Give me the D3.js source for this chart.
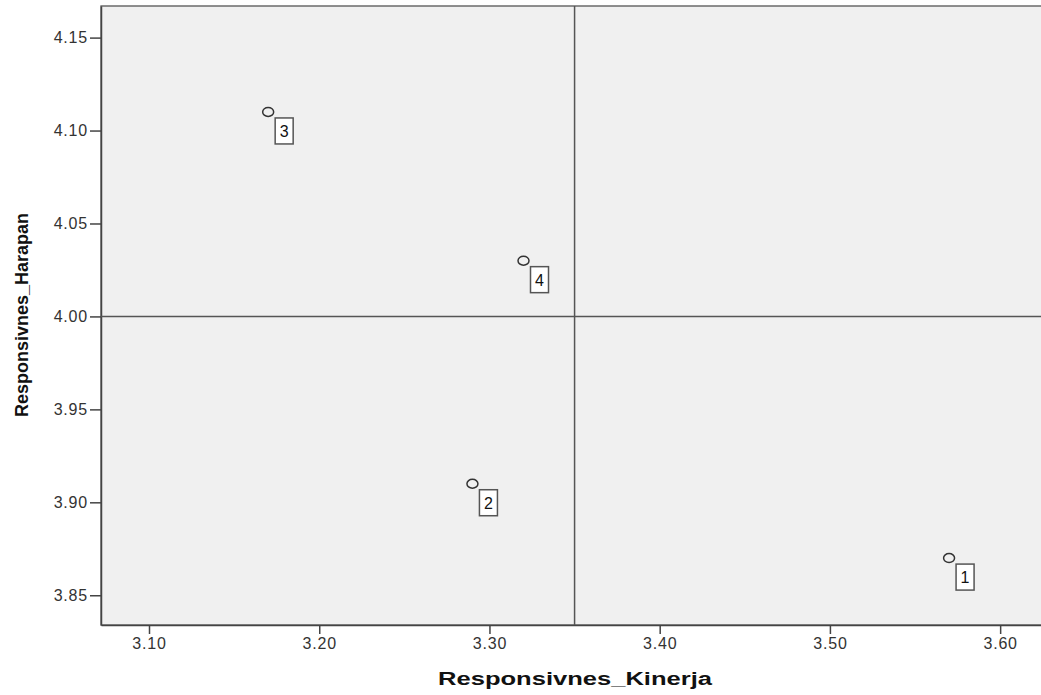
<!DOCTYPE html>
<html><head><meta charset="utf-8">
<script src="https://cdnjs.cloudflare.com/ajax/libs/d3/7.8.5/d3.min.js"></script>
<style>body{margin:0;background:#fff;} text{font-family:"Liberation Sans",Arial,sans-serif;}</style>
</head><body>
<svg id="c" width="1041" height="695"></svg>
<script>
const labels = ["1","2","3","4"];
const kinerja = [3.57, 3.29, 3.17, 3.32];
const harapan = [3.87, 3.91, 4.11, 4.03];
const xTicks = [3.10, 3.20, 3.30, 3.40, 3.50, 3.60];
const yTicks = [3.85, 3.90, 3.95, 4.00, 4.05, 4.10, 4.15];
const xMean = 3.35, yMean = 4.00;
const xDomain = [3.0718, 3.624], yDomain = [3.834, 4.167];

const svg = d3.select("#c");
const L = 101, T = 6, R = 1041, B = 625;
const x = d3.scaleLinear().domain(xDomain).range([L, R]);
const y = d3.scaleLinear().domain(yDomain).range([B, T]);

svg.append("rect").attr("x", L).attr("y", T).attr("width", R - L + 2).attr("height", B - T)
  .attr("fill", "#f0f0f0").attr("stroke", "#555").attr("stroke-width", 1.3);

const xa = svg.append("g").attr("transform", `translate(0,${B})`)
  .call(d3.axisBottom(x).tickValues(xTicks).tickFormat(d3.format(".2f")).tickSize(9).tickSizeOuter(0).tickPadding(4));
const ya = svg.append("g").attr("transform", `translate(${L},0)`)
  .call(d3.axisLeft(y).tickValues(yTicks).tickFormat(d3.format(".2f")).tickSize(11).tickSizeOuter(0).tickPadding(2));
[xa, ya].forEach(a => {
  a.select(".domain").attr("stroke", "#444").attr("stroke-width", 1.5);
  a.selectAll(".tick line").attr("stroke", "#444").attr("stroke-width", 1.5);
  a.selectAll(".tick text").attr("fill", "#333").style("font-size", "16px").style("letter-spacing", "0.8px");
});

svg.append("line").attr("x1", x(xMean)).attr("x2", x(xMean)).attr("y1", T).attr("y2", B)
  .attr("stroke", "#555").attr("stroke-width", 1.5);
svg.append("line").attr("x1", L).attr("x2", R).attr("y1", y(yMean)).attr("y2", y(yMean))
  .attr("stroke", "#555").attr("stroke-width", 1.5);

const pts = svg.append("g");
labels.forEach((lab, i) => {
  const px = x(kinerja[i]), py = y(harapan[i]);
  pts.append("ellipse").attr("cx", px).attr("cy", py).attr("rx", 5.5).attr("ry", 4.5)
    .attr("fill", "none").attr("stroke", "#333").attr("stroke-width", 1.5);
  pts.append("rect").attr("x", px + 7).attr("y", py + 6).attr("width", 18).attr("height", 26)
    .attr("fill", "#fff").attr("stroke", "#555").attr("stroke-width", 1.5);
  pts.append("text").attr("x", px + 16).attr("y", py + 25).attr("text-anchor", "middle")
    .style("font-size", "16px").attr("fill", "#111").text(lab);
});

const xt = svg.append("g").attr("transform", "translate(575,685)");
const xtt = xt.append("text").attr("text-anchor", "middle")
  .style("font-size", "19px").style("font-weight", "bold").attr("fill", "#111").text("Responsivnes_Kinerja");
const w = xtt.node().getComputedTextLength();
xtt.attr("transform", `scale(${274 / w},1)`);
svg.append("text").attr("transform", "translate(28,315) rotate(-90)").attr("text-anchor", "middle")
  .style("font-size", "18px").style("font-weight", "bold").attr("fill", "#111").text("Responsivnes_Harapan");
</script>
</body></html>
